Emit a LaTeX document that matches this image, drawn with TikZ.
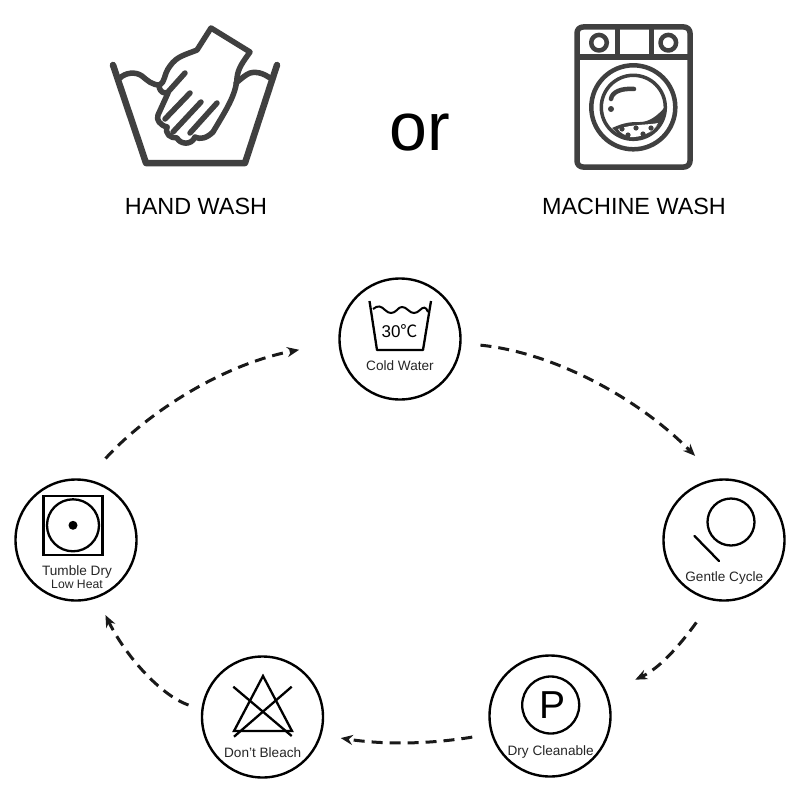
\documentclass[tikz,border=0pt]{standalone}
\usepackage{fontspec}
\setmainfont{Liberation Sans}
\newfontfamily\cjkfont{Noto Sans CJK SC}
\usetikzlibrary{arrows.meta}
\definecolor{icon}{HTML}{404040}
\newcommand{\fs}[1]{\fontsize{#1}{#1}\selectfont}
\tikzset{
  badge/.style={circle,draw=black,line width=2.4pt,minimum size=121pt,inner sep=0pt},
  caption/.style={inner sep=0pt,text=black!85,font=\fs{13.6}},
  head/.style={inner sep=0pt,text=black,font=\fs{23.4}},
  ic/.style={draw=icon,line width=6pt,line cap=round,line join=round},
  ww/.style={draw=icon,line width=4.5pt,line cap=round,line join=round},
  sym/.style={draw=black,line width=2.3pt},
  flow/.style={draw=black!90,line width=3pt,dash pattern=on 11pt off 7pt,-{Stealth[length=12pt,width=10pt]}}
}
\begin{document}
\begin{tikzpicture}[x=1pt,y=-1pt]
\useasboundingbox[fill=white] (0,0) rectangle (800,800);
% hand wash basin
\draw[ic,line width=6.5pt] (113,65) -- (146,163) -- (245,163) -- (277,65);
\draw[ic,line width=5.5pt] (120,78) .. controls (125,73) and (135,71) .. (142,76) .. controls (148,81) and (152,85) .. (160,85);
\draw[ic,line width=5.5pt] (270,78) .. controls (263,73) and (255,71) .. (250,73) .. controls (245,75) and (241,79) .. (236,83);
% hand
\draw[ic,line width=5.5pt] (159,85) .. controls (166,82) and (163,75) .. (170,66) .. controls (177,56) and (185,55) .. (197,50) -- (211,28) -- (250,52) .. controls (243,62) and (238,68) .. (237,78) .. controls (236,95) and (226,110) .. (213,132);
\draw[ic,line width=5.5pt] (185,73) -- (168,92) .. controls (165,94) and (160,93) .. (159,86);
\draw[ic,line width=5.5pt] (168,93) -- (158,115) .. controls (156,120) and (160,125) .. (167,127);
\draw[ic,line width=5.5pt] (190,93) -- (165,119);
\draw[ic,line width=5.5pt] (201,102) -- (173,132);
\draw[ic,line width=5.5pt] (217,103) -- (190,133);
\draw[ic,line width=5.5pt] (167,127) .. controls (165,134) and (170,138) .. (177,138) .. controls (180,144) and (191,146) .. (195,137) .. controls (200,140) and (207,138) .. (213,132);
% or
\node[inner sep=0pt,font=\fs{68}] (ortext) at (420,133) {or};
\node[head] (hand) at (196,206) {HAND WASH};
\node[head] (machine) at (634,206) {MACHINE WASH};
% washing machine
\draw[ic,line width=5.5pt,rounded corners=6pt] (577,27) rectangle (690,167);
\draw[ic,line width=5.5pt,line cap=butt] (577,57) -- (690,57);
\draw[ic,line width=5pt,line cap=butt] (617,27) -- (617,57);
\draw[ic,line width=5pt,line cap=butt] (651,27) -- (651,57);
\draw[ww] (599,42.7) circle (7.8);
\draw[ww] (668.3,42.7) circle (7.8);
\draw[ww] (633.3,107.3) circle (42);
\draw[ww,line width=3.5pt] (633.3,107.3) circle (32);
\draw[ww] (611,99) .. controls (612,92) and (621,88) .. (634,89);
\fill[icon] (611,109) circle (3);
\fill[icon] (612,128) .. controls (625,122) and (632,122) .. (640,122) .. controls (650,122) and (658,115) .. (665,107) -- (665,111) .. controls (663,122) and (655,128) .. (650,132) -- (647,136) -- (630,139) -- (620,136) -- cycle;
\fill[white] (618,129) .. controls (632,124) and (650,125) .. (658,123) .. controls (654,132) and (640,138) .. (630,137) .. controls (625,135) and (620,133) .. (618,129) -- cycle;
\foreach \a/\b in {622/129,628/135,636/128,643/134,651/128}{\fill[icon] (\a,\b) circle (2.6);}
% badges
\node[badge] (cold) at (400,339) {};
\node[badge] (gentle) at (724,540) {};
\node[badge] (dry) at (550,716) {};
\node[badge] (bleach) at (262.5,717) {};
\node[badge] (tumble) at (76,540) {};
% cold water
\draw[sym,line join=round] (369.5,301) -- (377,350) -- (423,350) -- (431,301);
\draw[sym,line width=2pt] (373,309) .. controls (378,305) and (381,306) .. (385,310) .. controls (389,314) and (393,314) .. (397,310) .. controls (400,306) and (404,306) .. (408,310) .. controls (412,314) and (416,314) .. (420,310) .. controls (423,307) and (426,306) .. (428,312);
\node[inner sep=0pt,font=\fs{17}] (temp) at (399.5,331) {30{\cjkfont ℃}};
\node[caption] (coldt) at (400,366) {Cold Water};
% gentle
\draw[sym] (731,522) circle (23.5);
\draw[sym,line cap=round] (694.5,536) -- (719,561);
\node[caption] (gentlet) at (724.3,577.5) {Gentle Cycle};
% dry
\draw[sym] (550.7,705) circle (28.5);
\node[inner sep=0pt,font=\fs{39}] (p) at (552,705) {P};
\node[caption] (dryt) at (550.7,752) {Dry Cleanable};
% bleach
\draw[sym,line join=miter] (263,676) -- (234,731) -- (292,731) -- cycle;
\draw[sym] (233.3,686.7) -- (291.7,736);
\draw[sym] (291.7,686.7) -- (234,736.7);
\node[caption] (bleacht) at (262.7,753) {Don't Bleach};
% tumble
\draw[sym,line width=2.6pt] (43.3,496) rectangle (102.3,555);
\draw[sym] (73,525.3) circle (26);
\fill (73,525.3) circle (4.5);
\node[caption] (tumblet) at (77,572) {Tumble Dry};
\node[caption,font=\fs{12.2}] (lowt) at (77,584) {Low Heat};
% flow arrows
\draw[flow,shorten <=19pt,shorten >=32pt] (cold.-4) .. controls (550,352) and (635,395) .. (gentle.96.6);
\draw[flow,shorten <=27pt,shorten >=31pt] (gentle.-101) .. controls (680,645) and (660,668) .. (dry.22.4);
\draw[flow,shorten <=19pt,shorten >=19.5pt] (dry.-163.6) .. controls (430,744) and (385,745) .. (bleach.-17);
\draw[flow,shorten <=13.5pt,shorten >=19pt] (bleach.173) .. controls (160,695) and (125,655) .. (tumble.-70);
\draw[flow,shorten <=28pt,shorten >=40pt] (tumble.80.5) .. controls (145,415) and (220,365) .. (cold.183);
\end{tikzpicture}
\end{document}
